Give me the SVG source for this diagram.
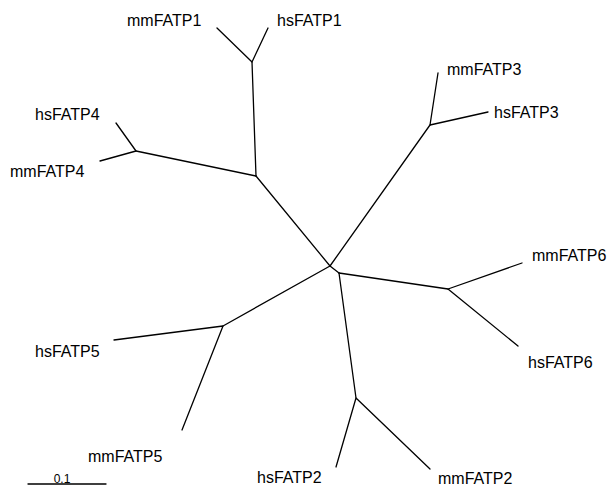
<svg xmlns="http://www.w3.org/2000/svg" width="610" height="491" viewBox="0 0 610 491">
<style>
.e{fill:none;stroke:#000;stroke-width:1.3;stroke-linecap:round;stroke-linejoin:round}
.t{font-family:"Liberation Sans",Arial,sans-serif;font-size:16px;fill:#000}
.s{font-family:"Liberation Sans",Arial,sans-serif;font-size:12px;fill:#000}
</style>
<rect width="610" height="491" fill="#fff"/>
<g id="connectors" class="e">
<path d="M217,28 L252,62 L268,28"/>
<path d="M252,62 L256,176"/>
<path d="M116,123 L136,151 L100,161"/>
<path d="M136,151 L256,176"/>
<path d="M256,176 L330,266"/>
<path d="M330,266 L430,125"/>
<path d="M438,73 L430,125 L488,112"/>
<path d="M330,266 L339,273"/>
<path d="M339,273 L448,289"/>
<path d="M522,263 L448,289 L518,346"/>
<path d="M339,273 L356,398"/>
<path d="M336,467 L356,398 L430,469"/>
<path d="M330,266 L223,326"/>
<path d="M114,340 L223,326 L182,430"/>
</g>
<g id="mmFATP1"><text class="t" x="127" y="26">mmFATP1</text></g>
<g id="hsFATP1"><text class="t" x="277" y="26">hsFATP1</text></g>
<g id="hsFATP4"><text class="t" x="35" y="120">hsFATP4</text></g>
<g id="mmFATP4"><text class="t" x="10" y="177">mmFATP4</text></g>
<g id="mmFATP3"><text class="t" x="447" y="75">mmFATP3</text></g>
<g id="hsFATP3"><text class="t" x="494" y="118">hsFATP3</text></g>
<g id="mmFATP6"><text class="t" x="532" y="261">mmFATP6</text></g>
<g id="hsFATP6"><text class="t" x="528" y="368">hsFATP6</text></g>
<g id="hsFATP5"><text class="t" x="35" y="357">hsFATP5</text></g>
<g id="mmFATP5"><text class="t" x="88" y="462">mmFATP5</text></g>
<g id="hsFATP2"><text class="t" x="257" y="483">hsFATP2</text></g>
<g id="mmFATP2"><text class="t" x="438" y="484">mmFATP2</text></g>
<g id="scalebar">
<line class="e" x1="28" y1="484" x2="106" y2="484"/>
<text class="s" x="62" y="483" text-anchor="middle">0.1</text>
</g>
</svg>
